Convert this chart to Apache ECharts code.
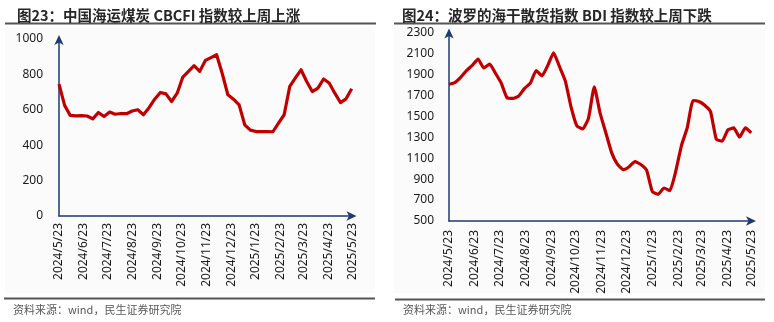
<!DOCTYPE html>
<html>
<head>
<meta charset="utf-8">
<script src="https://cdn.jsdelivr.net/npm/echarts@6/dist/echarts.min.js"></script>
<style>
html,body{margin:0;padding:0;background:#fff;}
#c{width:774px;height:322px;}
</style>
</head>
<body>
<div id="c"></div>
<script>
// weekly dates
const dates = [
  '2024-05-23','2024-05-30','2024-06-06','2024-06-13','2024-06-20','2024-06-27',
  '2024-07-04','2024-07-11','2024-07-18','2024-07-25','2024-08-01','2024-08-08',
  '2024-08-15','2024-08-22','2024-08-29','2024-09-05','2024-09-12','2024-09-19',
  '2024-09-26','2024-10-03','2024-10-10','2024-10-17','2024-10-24','2024-10-31',
  '2024-11-07','2024-11-14','2024-11-21','2024-11-28','2024-12-05','2024-12-12',
  '2024-12-19','2024-12-26','2025-01-02','2025-01-09','2025-01-16','2025-01-23',
  '2025-01-30','2025-02-06','2025-02-13','2025-02-20','2025-02-27','2025-03-06',
  '2025-03-13','2025-03-20','2025-03-27','2025-04-03','2025-04-10','2025-04-17',
  '2025-04-24','2025-05-01','2025-05-08','2025-05-15','2025-05-22'
];
// CBCFI values
const cbcfi = [
  745,625,568,566,567,565,549,585,562,587,575,579,578,593,600,572,612,660,
  698,690,647,694,785,817,849,817,879,895,911,805,685,660,628,515,485,477,
  477,477,476,525,572,732,780,826,760,703,723,774,751,694,641,662,719
];
// BDI values
const bdi = [
  1805,1820,1870,1935,1985,2045,1960,1998,1910,1815,1675,1670,1693,1766,1815,1935,1885,1985,
  2106,1975,1840,1590,1410,1378,1480,1781,1530,1340,1150,1040,990,1018,1066,1040,985,780,
  755,815,790,970,1220,1390,1650,1640,1605,1545,1280,1262,1370,1388,1300,1388,1340
];
// month tick labels
const tickDates = [
  '2024-05-23','2024-06-23','2024-07-23','2024-08-23','2024-09-23','2024-10-23',
  '2024-11-23','2024-12-23','2025-01-23','2025-02-23','2025-03-23','2025-04-23','2025-05-23'
];
const titles = ['图23：中国海运煤炭 CBCFI 指数较上周上涨','图24：波罗的海干散货指数 BDI 指数较上周下跌'];
const sourceText = '资料来源：wind，民生证券研究院';

const DAY = 86400000;
const ts = s => { const p = s.split('-').map(Number); return Date.UTC(p[0], p[1]-1, p[2]) / DAY; };
const tickTs = tickDates.map(ts);
const fmt = v => { const d = new Date(Math.round(v) * DAY); return d.getUTCFullYear() + '/' + (d.getUTCMonth()+1) + '/' + d.getUTCDate(); };
const pairs = arr => dates.map((d, i) => [ts(d), arr[i]]);

const axisColor = '#1f3a6e';
const font = '"Noto Sans", "Noto Sans CJK SC", sans-serif';

function xAxis(gi){
  return {
    type: 'value', gridIndex: gi,
    min: tickTs[0], max: tickTs[tickTs.length-1],
    splitLine: {show:false},
    axisTick: {show:false},
    axisLine: {show:true, lineStyle:{color:axisColor, width:1.5}, symbol:['none','arrow'], symbolSize:[7,10], symbolOffset:[0,4]},
    axisLabel: {
      customValues: tickTs, rotate: 90, margin: gi===0 ? 7 : 9,
      color:'#1a1a1a', fontSize:12, fontFamily:font,
      formatter: v => fmt(v), hideOverlap:false
    }
  };
}
function yAxis(gi, min, max){
  return {
    type:'value', gridIndex:gi, min:min, max:max, interval:200,
    splitLine:{show:false},
    axisTick:{show:false},
    axisLine:{show:true, lineStyle:{color:axisColor, width:1.5}, symbol:['none','arrow'], symbolSize:[7,10], symbolOffset:[0,4]},
    axisLabel:{margin: gi===0 ? 16 : 15, color:'#1a1a1a', fontSize:12, fontFamily:font, formatter: v => String(v)}
  };
}

const chart = echarts.init(document.getElementById('c'), null, {renderer:'canvas'});
chart.setOption({
  backgroundColor:'#ffffff',
  animation:false,
  title: [
    {text:titles[0], left:12, top:3, textStyle:{fontSize:14.5, fontWeight:'bold', color:'#262626', fontFamily:'"Noto Sans CJK SC", sans-serif'}},
    {text:titles[1], left:397, top:3, textStyle:{fontSize:14.5, fontWeight:'bold', color:'#262626', fontFamily:'"Noto Sans CJK SC", sans-serif'}}
  ],
  graphic: [
    {type:'rect', z:-10, shape:{x:5,y:27,width:370,height:266}, style:{fill:'#fbfbfb'}},
    {type:'rect', z:-10, shape:{x:394,y:27,width:371,height:266}, style:{fill:'#fbfbfb'}},
    {type:'line', shape:{x1:5,y1:23.5,x2:376,y2:23.5}, style:{stroke:'#555555', lineWidth:2}},
    {type:'line', shape:{x1:394,y1:23.5,x2:765,y2:23.5}, style:{stroke:'#555555', lineWidth:2}},
    {type:'line', shape:{x1:4,y1:298.5,x2:375,y2:298.5}, style:{stroke:'#555555', lineWidth:2}},
    {type:'line', shape:{x1:395,y1:299.5,x2:765,y2:299.5}, style:{stroke:'#555555', lineWidth:2}},
    {type:'text', left:13, top:304, style:{text:sourceText, fill:'#595959', font:'11px "Noto Sans CJK SC", sans-serif'}},
    {type:'text', left:403, top:304, style:{text:sourceText, fill:'#595959', font:'11px "Noto Sans CJK SC", sans-serif'}}
  ],
  grid: [
    {left:59, top:39, width:293.5, height:177},
    {left:449, top:32.4, width:303, height:188.6}
  ],
  xAxis: [xAxis(0), xAxis(1)],
  yAxis: [yAxis(0, 0, 1000), yAxis(1, 500, 2300)],
  series: [
    {type:'line', xAxisIndex:0, yAxisIndex:0, data:pairs(cbcfi), showSymbol:false, smooth:false,
     lineStyle:{color:'#c00000', width:3.2, join:'round'}},
    {type:'line', xAxisIndex:1, yAxisIndex:1, data:pairs(bdi), showSymbol:false, smooth:0.15,
     lineStyle:{color:'#c00000', width:3.2, join:'round'}}
  ]
});
</script>
</body>
</html>
